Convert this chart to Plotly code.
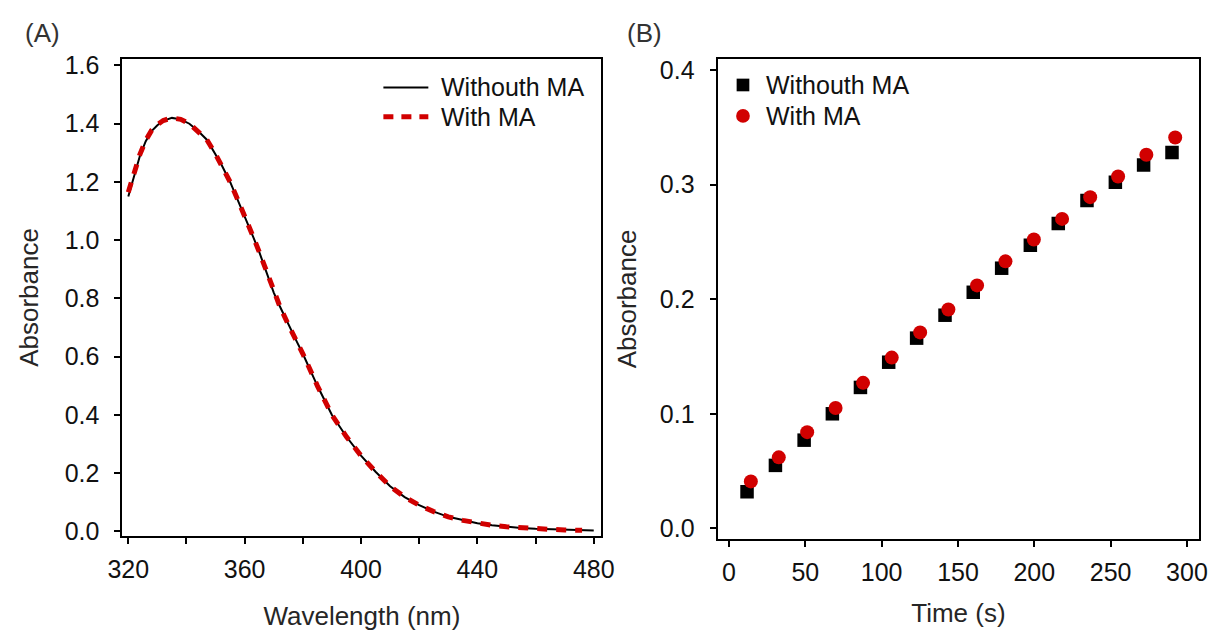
import plotly.graph_objects as go

# ---- Panel A: absorption spectra ----
wavelength = [320, 322, 324, 326, 328, 330, 332, 335, 338, 341, 344, 347, 350, 352,
              355, 358, 360, 363, 365, 368, 370, 372, 375, 378, 380, 385, 390, 395,
              400, 405, 410, 415, 420, 425, 430, 435, 440, 445, 450, 455, 460, 465,
              470, 475, 480]
abs_without = [1.15, 1.22, 1.29, 1.34, 1.375, 1.395, 1.41, 1.42, 1.415, 1.40, 1.375,
               1.345, 1.295, 1.26, 1.20, 1.13, 1.085, 1.01, 0.96, 0.88, 0.82, 0.775,
               0.71, 0.65, 0.61, 0.50, 0.40, 0.325, 0.26, 0.205, 0.155, 0.118, 0.09,
               0.068, 0.05, 0.038, 0.028, 0.021, 0.016, 0.012, 0.009, 0.007, 0.005,
               0.004, 0.003]
wavelength_ma = [320, 322, 324, 326, 328, 330, 332, 335, 338, 341, 344, 347, 350, 352,
                 355, 358, 360, 363, 365, 368, 370, 372, 375, 378, 380, 385, 390, 395,
                 400, 405, 410, 415, 420, 425, 430, 435, 440, 445, 450, 455, 460, 465,
                 470, 476]
abs_with = [1.165, 1.23, 1.295, 1.343, 1.377, 1.397, 1.411, 1.42, 1.415, 1.40, 1.375,
            1.345, 1.295, 1.26, 1.20, 1.13, 1.085, 1.01, 0.96, 0.88, 0.82, 0.775,
            0.71, 0.65, 0.61, 0.50, 0.40, 0.325, 0.26, 0.205, 0.155, 0.118, 0.09,
            0.068, 0.05, 0.038, 0.028, 0.021, 0.016, 0.012, 0.009, 0.007, 0.005,
            0.004]

# ---- Panel B: absorbance vs time ----
time_without = [11.8, 30.4, 49.2, 67.7, 86.1, 104.6, 122.9, 141.5, 160.0, 178.6,
                197.4, 215.7, 234.5, 253.1, 271.6, 290.2]
kin_without = [0.032, 0.055, 0.077, 0.100, 0.123, 0.145, 0.166, 0.186, 0.206, 0.227,
               0.247, 0.266, 0.286, 0.302, 0.317, 0.328]
time_with = [14.3, 32.6, 51.2, 69.8, 87.8, 106.6, 125.2, 143.7, 162.5, 181.1,
             199.7, 218.2, 236.6, 254.9, 273.4, 292.3]
kin_with = [0.041, 0.062, 0.084, 0.105, 0.127, 0.149, 0.171, 0.191, 0.212, 0.233,
            0.252, 0.270, 0.289, 0.307, 0.326, 0.341]

series_names = ["Withouth MA", "With MA"]
wl_ticks = [320, 340, 360, 380, 400, 420, 440, 460, 480]
wl_ticktext = ["320", "", "360", "", "400", "", "440", "", "480"]
abs_ticks_a = [0, 0.2, 0.4, 0.6, 0.8, 1.0, 1.2, 1.4, 1.6]
time_ticks = [0, 50, 100, 150, 200, 250, 300]
abs_ticks_b = [0, 0.1, 0.2, 0.3, 0.4]

FONT = "Arial, 'Liberation Sans', Helvetica, sans-serif"
TICK_C = "#111111"
TITLE_C = "#262626"
RED = "#d10000"
W, H = 1226, 633


def px(x):
    return x / W


def py(y):
    return (H - y) / H


fig = go.Figure()

fig.add_trace(go.Scatter(x=wavelength, y=abs_without, mode="lines",
                         name=series_names[0], line=dict(color="black", width=2),
                         xaxis="x", yaxis="y", showlegend=False))
fig.add_trace(go.Scatter(x=wavelength_ma, y=abs_with, mode="lines",
                         name=series_names[1],
                         line=dict(color=RED, width=5, dash="10px,9px"),
                         xaxis="x", yaxis="y", showlegend=False))

fig.add_trace(go.Scatter(x=time_without, y=kin_without, mode="markers",
                         name=series_names[0],
                         marker=dict(symbol="square", size=13.5, color="black"),
                         xaxis="x2", yaxis="y2", showlegend=False))
fig.add_trace(go.Scatter(x=time_with, y=kin_with, mode="markers",
                         name=series_names[1],
                         marker=dict(symbol="circle", size=14, color=RED),
                         xaxis="x2", yaxis="y2", showlegend=False))

axis_common = dict(showline=True, linecolor="black", linewidth=2, mirror=True,
                   ticks="outside", ticklen=6, tickwidth=2, tickcolor="black",
                   showgrid=False, zeroline=False,
                   tickfont=dict(family=FONT, size=25, color=TICK_C))
title_font = dict(family=FONT, size=26, color=TITLE_C)

fig.update_layout(
    width=W, height=H,
    margin=dict(l=0, r=0, t=0, b=0),
    paper_bgcolor="white", plot_bgcolor="white",
    font=dict(family=FONT, size=25, color=TICK_C),
    showlegend=False,
    xaxis=dict(domain=[px(110), px(600)], range=[318.0, 482.6],
               tickvals=wl_ticks, ticktext=wl_ticktext, anchor="y",
               ticklabelstandoff=4,
               title=dict(text="Wavelength (nm)", standoff=25, font=title_font),
               **axis_common),
    yaxis=dict(domain=[py(543), py(53)], range=[-0.0167, 1.6234],
               tickvals=abs_ticks_a, tickformat=".1f", anchor="x",
               ticklabelstandoff=10,
               title=dict(text="Absorbance", standoff=19, font=title_font),
               **axis_common),
    xaxis2=dict(domain=[px(719), px(1212)], range=[-7.5, 308.1],
                tickvals=time_ticks, anchor="y2",
                ticklabelstandoff=4,
                title=dict(text="Time (s)", standoff=19, font=title_font),
                **axis_common),
    yaxis2=dict(domain=[py(546), py(53)], range=[-0.0094, 0.4098],
                tickvals=abs_ticks_b, tickformat=".1f", anchor="x2",
                ticklabelstandoff=10,
                title=dict(text="Absorbance", standoff=16, font=title_font),
                **axis_common),
)

# Legend keys drawn as shapes in page coordinates
legend_shapes = [
    # panel A: solid and dashed line keys
    dict(type="line", xref="paper", yref="paper",
         x0=px(377), x1=px(423), y0=py(82.5), y1=py(82.5),
         line=dict(color="black", width=2)),
    dict(type="line", xref="paper", yref="paper",
         x0=px(377), x1=px(423), y0=py(112.5), y1=py(112.5),
         line=dict(color=RED, width=5, dash="10px,8px")),
    # panel B: square and circle marker keys
    dict(type="rect", xref="paper", yref="paper",
         x0=px(738.5), x1=px(751.5), y0=py(86.5), y1=py(73.5),
         line=dict(width=0), fillcolor="black"),
    dict(type="circle", xref="paper", yref="paper",
         x0=px(738), x1=px(752), y0=py(118.7), y1=py(104.7),
         line=dict(width=0), fillcolor=RED),
]
fig.update_layout(shapes=legend_shapes)


def label(text, x, y, color=TICK_C, size=25):
    return dict(text=text, x=px(x), y=py(y), xref="paper", yref="paper",
                xanchor="left", yanchor="middle", showarrow=False,
                font=dict(family=FONT, size=size, color=color))


fig.update_layout(annotations=[
    label(series_names[0], 434, 82.5),
    label(series_names[1], 434, 112.5),
    label(series_names[0], 767, 80),
    label(series_names[1], 767, 111.7),
    label("(A)", 8, 27, color="#333333", size=26),
    label("(B)", 624, 27, color="#333333", size=26),
])

fig.write_html("out.html")
